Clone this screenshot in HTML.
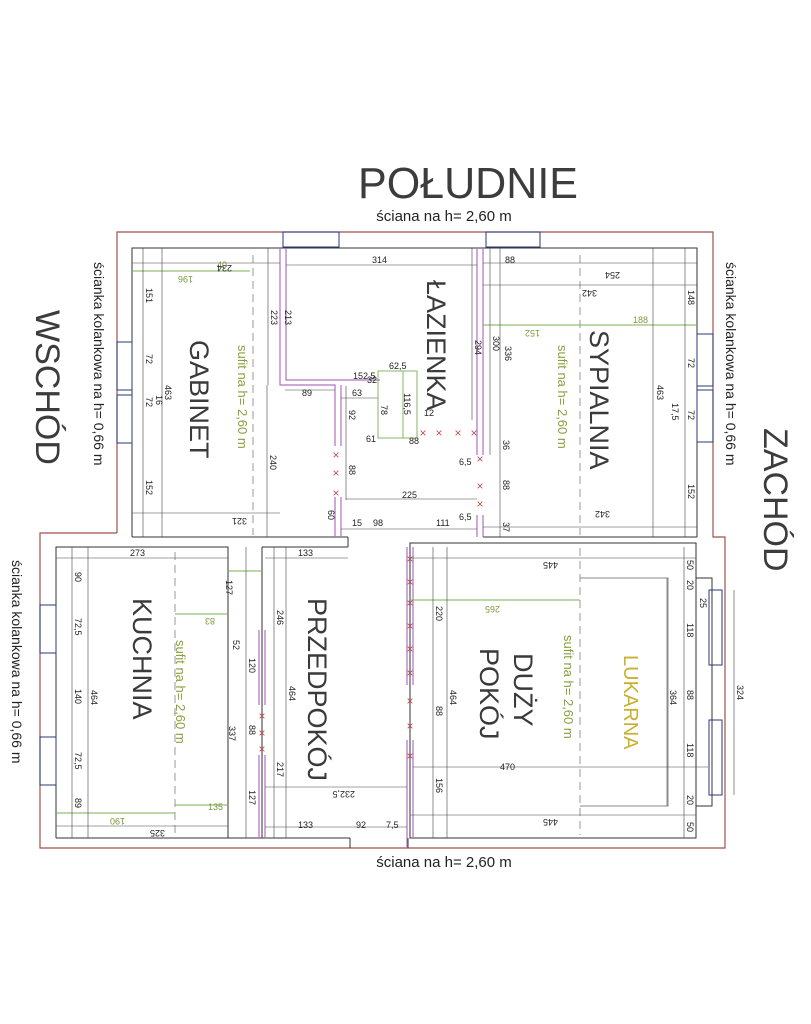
<!DOCTYPE html>
<html><head><meta charset="utf-8"><style>
html,body{margin:0;padding:0;background:#fff;}
svg{display:block;font-family:"Liberation Sans",sans-serif;}
.d{font-size:9px;fill:#222;}
.g{font-size:9px;fill:#7a9a3a;}
.room{font-size:27px;fill:#3a3a3a;}
.suf{font-size:13px;fill:#8aa03a;}
</style></head><body>
<svg width="811" height="1024" viewBox="0 0 811 1024" xmlns="http://www.w3.org/2000/svg">
<rect width="811" height="1024" fill="#fff"/>
<text x="468" y="198" font-size="44" fill="#3c3c3c" text-anchor="middle" textLength="220" lengthAdjust="spacingAndGlyphs">POŁUDNIE</text>
<text x="444" y="221" font-size="15" fill="#222" text-anchor="middle">ściana na h= 2,60 m</text>
<text x="444" y="867" font-size="15" fill="#222" text-anchor="middle">ściana na h= 2,60 m</text>
<text transform="translate(36,310) rotate(90)" font-size="34" fill="#3c3c3c">WSCHÓD</text>
<text transform="translate(764,428) rotate(90)" font-size="34" fill="#3c3c3c">ZACHÓD</text>
<text transform="translate(94,262) rotate(90)" font-size="14" fill="#222">ścianka kolankowa na h= 0,66 m</text>
<text transform="translate(12,560) rotate(90)" font-size="14" fill="#222">ścianka kolankowa na h= 0,66 m</text>
<text transform="translate(726,262) rotate(90)" font-size="14" fill="#222">ścianka kolankowa na h= 0,66 m</text>

<g fill="none" stroke="#a0524a" stroke-width="1.2">
<polyline points="117,533 117,232 713,232 713,537 725,537 725,848 40,848 40,533 117,533"/>
</g>
<g fill="none" stroke="#333" stroke-width="1">
<polyline points="132,537 132,248 697,248 697,537"/>
<polyline points="56,838 56,547 228,547 228,838"/>
<rect x="410" y="543" width="286" height="295"/>
<rect x="696" y="578" width="16" height="228"/>
<line x1="132" y1="537" x2="348" y2="537"/>
<line x1="262" y1="547" x2="348" y2="547"/>
<line x1="262" y1="547" x2="262" y2="838"/>
<line x1="348" y1="537" x2="348" y2="547"/>
<line x1="483" y1="537" x2="697" y2="537"/>
<line x1="56" y1="838" x2="350" y2="838"/>
<line x1="350" y1="838" x2="350" y2="848"/>
<line x1="408" y1="838" x2="408" y2="848"/>
<rect x="283" y="232" width="56" height="15" stroke="#2a3a7a"/>
<rect x="486" y="232" width="54" height="15" stroke="#2a3a7a"/>
<rect x="117" y="342" width="15" height="48" stroke="#2a3a7a"/>
<rect x="117" y="395" width="15" height="48" stroke="#2a3a7a"/>
<rect x="697" y="334" width="16" height="52" stroke="#2a3a7a"/>
<rect x="697" y="390" width="16" height="52" stroke="#2a3a7a"/>
<rect x="40" y="605" width="16" height="48" stroke="#2a3a7a"/>
<rect x="40" y="737" width="16" height="48" stroke="#2a3a7a"/>
<rect x="709" y="590" width="13" height="75" stroke="#2a3a7a"/>
<rect x="709" y="720" width="13" height="75" stroke="#2a3a7a"/>
</g>
<g fill="none" stroke="#b070c0" stroke-width="1.2">
<polyline points="280,248 280,385 335,385 335,446"/>
<polyline points="286,248 286,380 380,380"/>
<polyline points="341,385 341,446"/>
<polyline points="335,497 335,537"/>
<polyline points="341,497 341,537"/>
<line x1="477" y1="248" x2="477" y2="455"/><line x1="483" y1="248" x2="483" y2="455"/>
<line x1="477" y1="515" x2="477" y2="537"/><line x1="483" y1="515" x2="483" y2="537"/>
<line x1="407" y1="547" x2="407" y2="685"/><line x1="413" y1="547" x2="413" y2="685"/>
<line x1="407" y1="740" x2="407" y2="848"/><line x1="413" y1="740" x2="413" y2="838"/>
<line x1="259" y1="630" x2="259" y2="705"/><line x1="265" y1="630" x2="265" y2="705"/>
<line x1="259" y1="755" x2="259" y2="838"/><line x1="265" y1="755" x2="265" y2="838"/>
</g>
<g fill="none" stroke="#7ab050" stroke-width="0.9">
<rect x="378" y="371" width="39" height="67"/>
<line x1="403" y1="371" x2="403" y2="438"/>
<line x1="132" y1="271" x2="250" y2="271"/>
<line x1="483" y1="325" x2="697" y2="325"/>
<line x1="228" y1="571" x2="262" y2="571"/>
<line x1="175" y1="614" x2="228" y2="614"/>
<line x1="56" y1="813" x2="175" y2="813"/>
<line x1="175" y1="805" x2="228" y2="805"/>
<line x1="410" y1="600" x2="580" y2="600"/>
</g>
<g stroke="#999" stroke-dasharray="8,5" stroke-width="1">
<line x1="253" y1="255" x2="253" y2="535"/>
<line x1="580" y1="255" x2="580" y2="535"/>
<line x1="175" y1="552" x2="175" y2="835"/>
<line x1="580" y1="548" x2="580" y2="835"/>
<polyline points="580,578 668,578 668,806 580,806" fill="none" stroke-dasharray="none" stroke="#888"/>
</g>
<g stroke="#444" stroke-width="0.6" fill="none">
<line x1="132" y1="263" x2="280" y2="263"/>
<line x1="286" y1="265" x2="477" y2="265"/>
<line x1="483" y1="263" x2="697" y2="263"/>
<line x1="483" y1="285" x2="697" y2="285"/>
<line x1="132" y1="513" x2="280" y2="513"/>
<line x1="483" y1="527" x2="697" y2="527"/>
<line x1="143" y1="248" x2="143" y2="537"/>
<line x1="162" y1="248" x2="162" y2="537"/>
<line x1="268" y1="248" x2="268" y2="385"/>
<line x1="267" y1="385" x2="267" y2="537"/>
<line x1="685" y1="248" x2="685" y2="537"/>
<line x1="653" y1="248" x2="653" y2="537"/>
<line x1="500" y1="248" x2="500" y2="537"/>
<line x1="490" y1="248" x2="490" y2="455"/>
<line x1="472" y1="248" x2="472" y2="420"/>
<line x1="285" y1="390" x2="335" y2="390"/>
<line x1="341" y1="398" x2="378" y2="398"/>
<line x1="346" y1="386" x2="346" y2="446"/>
<line x1="346" y1="446" x2="346" y2="500"/>
<line x1="346" y1="499" x2="477" y2="499"/>
<line x1="341" y1="529" x2="477" y2="529"/>
<line x1="56" y1="558" x2="228" y2="558"/>
<line x1="56" y1="826" x2="228" y2="826"/>
<line x1="72" y1="547" x2="72" y2="838"/>
<line x1="88" y1="547" x2="88" y2="838"/>
<line x1="246" y1="547" x2="246" y2="838"/>
<line x1="265" y1="558" x2="348" y2="558"/>
<line x1="274" y1="547" x2="274" y2="838"/>
<line x1="286" y1="547" x2="286" y2="838"/>
<line x1="265" y1="787" x2="407" y2="787"/>
<line x1="265" y1="827" x2="407" y2="827"/>
<line x1="410" y1="558" x2="696" y2="558"/>
<line x1="410" y1="815" x2="696" y2="815"/>
<line x1="413" y1="767" x2="708" y2="767"/>
<line x1="433" y1="547" x2="433" y2="838"/>
<line x1="447" y1="547" x2="447" y2="838"/>
<line x1="684" y1="547" x2="684" y2="838"/>
<line x1="667" y1="578" x2="667" y2="806"/>
<line x1="734" y1="590" x2="734" y2="795"/>
</g>
<g fill="#c05050" font-size="12" text-anchor="middle">
<text x="336" y="459">×</text><text x="336" y="477">×</text><text x="336" y="497">×</text>
<text x="423" y="437">×</text><text x="439" y="437">×</text><text x="458" y="437">×</text><text x="474" y="437">×</text>
<text x="480" y="463">×</text><text x="480" y="490">×</text><text x="480" y="508">×</text>
<text x="410" y="563">×</text><text x="410" y="586">×</text><text x="410" y="607">×</text><text x="410" y="630">×</text><text x="410" y="653">×</text><text x="410" y="677">×</text>
<text x="410" y="705">×</text><text x="410" y="730">×</text><text x="410" y="760">×</text>
<text x="262" y="720">×</text><text x="262" y="737">×</text><text x="262" y="753">×</text>
</g>
<text class="room" transform="translate(190,340) rotate(90)">GABINET</text>
<text class="room" transform="translate(427,280) rotate(90)">ŁAZIENKA</text>
<text class="room" transform="translate(590,330) rotate(90)">SYPIALNIA</text>
<text class="room" transform="translate(133,598) rotate(90)">KUCHNIA</text>
<text class="room" transform="translate(308,598) rotate(90)">PRZEDPOKÓJ</text>
<text class="room" font-size="28" transform="translate(514,653) rotate(90)">DUŻY</text>
<text class="room" font-size="28" transform="translate(480,648) rotate(90)">POKÓJ</text>
<text transform="translate(624,655) rotate(90)" font-size="20" fill="#c8b030">LUKARNA</text>
<text class="suf" transform="translate(238,345) rotate(90)">sufit na h= 2,60 m</text>
<text class="suf" transform="translate(558,345) rotate(90)">sufit na h= 2,60 m</text>
<text class="suf" transform="translate(176,640) rotate(90)">sufit na h= 2,60 m</text>
<text class="suf" transform="translate(564,635) rotate(90)">sufit na h= 2,60 m</text>
<g class="d">
<text x="372" y="263">314</text><text x="505" y="263">88</text>
<text x="353" y="379">152,5</text><text x="389" y="369">62,5</text><text x="367" y="383">32</text>
<text x="302" y="396">89</text><text x="352" y="396">63</text><text x="424" y="416">12</text>
<text x="366" y="442">61</text><text x="409" y="444">88</text><text x="402" y="498">225</text>
<text x="352" y="526">15</text><text x="373" y="526">98</text><text x="436" y="526">111</text>
<text x="459" y="520">6,5</text><text x="459" y="465">6,5</text>
<text x="130" y="556">273</text><text x="298" y="556">133</text>
<text x="298" y="828">133</text><text x="356" y="828">92</text><text x="386" y="828">7,5</text>
<text x="500" y="770">470</text>
<text x="217" y="268" fill="#7a9a3a">40</text>
<text x="633" y="323" fill="#7a9a3a">188</text>
<text x="208" y="810" fill="#7a9a3a">135</text>
<text transform="translate(232,265) rotate(180)">234</text>
<text transform="translate(247,518) rotate(180)">321</text>
<text transform="translate(620,272) rotate(180)">254</text>
<text transform="translate(597,290) rotate(180)">342</text>
<text transform="translate(610,511) rotate(180)">342</text>
<text transform="translate(165,830) rotate(180)">325</text>
<text transform="translate(558,562) rotate(180)">445</text>
<text transform="translate(558,819) rotate(180)">445</text>
<text transform="translate(355,791) rotate(180)">232,5</text>
<text transform="translate(193,276) rotate(180)" fill="#7a9a3a">196</text>
<text transform="translate(540,330) rotate(180)" fill="#7a9a3a">152</text>
<text transform="translate(215,618) rotate(180)" fill="#7a9a3a">83</text>
<text transform="translate(125,818) rotate(180)" fill="#7a9a3a">190</text>
<text transform="translate(500,606) rotate(180)" fill="#7a9a3a">265</text>
<text transform="translate(146,288) rotate(90)">151</text>
<text transform="translate(146,354) rotate(90)">72</text>
<text transform="translate(146,397) rotate(90)">72</text>
<text transform="translate(146,480) rotate(90)">152</text>
<text transform="translate(165,385) rotate(90)">463</text>
<text transform="translate(156,395) rotate(90)">16</text>
<text transform="translate(271,310) rotate(90)">223</text>
<text transform="translate(285,310) rotate(90)">213</text>
<text transform="translate(270,455) rotate(90)">240</text>
<text transform="translate(328,510) rotate(90)">60</text>
<text transform="translate(349,410) rotate(90)">92</text>
<text transform="translate(349,465) rotate(90)">88</text>
<text transform="translate(381,405) rotate(90)">78</text>
<text transform="translate(404,393) rotate(90)">116,5</text>
<text transform="translate(475,340) rotate(90)">294</text>
<text transform="translate(493,336) rotate(90)">300</text>
<text transform="translate(505,346) rotate(90)">336</text>
<text transform="translate(503,440) rotate(90)">36</text>
<text transform="translate(503,480) rotate(90)">88</text>
<text transform="translate(503,522) rotate(90)">37</text>
<text transform="translate(657,385) rotate(90)">463</text>
<text transform="translate(688,290) rotate(90)">148</text>
<text transform="translate(688,358) rotate(90)">72</text>
<text transform="translate(688,410) rotate(90)">72</text>
<text transform="translate(672,403) rotate(90)">17,5</text>
<text transform="translate(688,484) rotate(90)">152</text>
<text transform="translate(75,572) rotate(90)">90</text>
<text transform="translate(75,618) rotate(90)">72,5</text>
<text transform="translate(75,689) rotate(90)">140</text>
<text transform="translate(75,752) rotate(90)">72,5</text>
<text transform="translate(75,798) rotate(90)">89</text>
<text transform="translate(91,690) rotate(90)">464</text>
<text transform="translate(226,580) rotate(90)">127</text>
<text transform="translate(233,640) rotate(90)">52</text>
<text transform="translate(249,658) rotate(90)">120</text>
<text transform="translate(249,725) rotate(90)">88</text>
<text transform="translate(249,790) rotate(90)">127</text>
<text transform="translate(229,726) rotate(90)">337</text>
<text transform="translate(277,610) rotate(90)">246</text>
<text transform="translate(289,686) rotate(90)">464</text>
<text transform="translate(277,762) rotate(90)">217</text>
<text transform="translate(436,606) rotate(90)">220</text>
<text transform="translate(436,706) rotate(90)">88</text>
<text transform="translate(436,778) rotate(90)">156</text>
<text transform="translate(450,690) rotate(90)">464</text>
<text transform="translate(687,560) rotate(90)">50</text>
<text transform="translate(687,580) rotate(90)">20</text>
<text transform="translate(687,623) rotate(90)">118</text>
<text transform="translate(687,690) rotate(90)">88</text>
<text transform="translate(687,743) rotate(90)">118</text>
<text transform="translate(687,795) rotate(90)">20</text>
<text transform="translate(687,822) rotate(90)">50</text>
<text transform="translate(670,690) rotate(90)">364</text>
<text transform="translate(737,685) rotate(90)">324</text>
<text transform="translate(700,598) rotate(90)">25</text>
</g>
</svg>
</body></html>
